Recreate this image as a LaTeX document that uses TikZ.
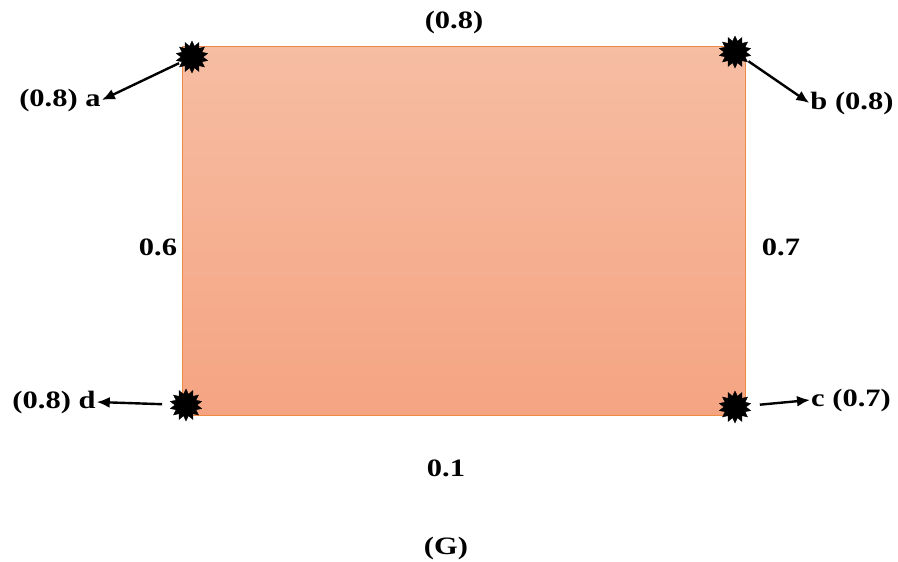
\documentclass[tikz,border=0pt]{standalone}
\usepackage{fontspec}
\setmainfont{Liberation Serif}
\usetikzlibrary{arrows.meta,shapes.symbols}
\definecolor{rtop}{HTML}{F6BDA3}
\definecolor{rbot}{HTML}{F5A482}
\definecolor{redge}{HTML}{EF8A45}
\newcommand{\lbl}[1]{\scalebox{1.22}[1]{\bfseries #1}}

\begin{document}
\begin{tikzpicture}[x=1pt, y=-1pt, every node/.style={font=\fontsize{25}{28}\selectfont, inner sep=1pt}]
\tikzstyle{burst}=[starburst, starburst points=14, starburst point height=5pt, random starburst=0, fill=black, draw=black, minimum width=32pt, minimum height=32pt, inner sep=0pt]
\tikzstyle{ptr}=[-{Latex[length=13pt,width=11pt]}, line width=2.4pt]
\useasboundingbox (0,0) rectangle (898,562);
% the region
\draw[redge, line width=1pt, top color=rtop, bottom color=rbot] (182,46) rectangle (745,415);
% corner points
\node[burst] (pa) at (192,57) {};
\node[burst] (pb) at (735,52) {};
\node[burst] (pd) at (186,405) {};
\node[burst] (pc) at (735,407) {};
% labels
\node (la) at (60,100) {\lbl{(0.8) a}};
\node (lb) at (852,103) {\lbl{b (0.8)}};
\node (ld) at (54,402) {\lbl{(0.8) d}};
\node (lc) at (851,400) {\lbl{c (0.7)}};
\node (ab) at (454,22) {\lbl{(0.8)}};
\node (ad) at (158,247) {\lbl{0.6}};
\node (bc) at (781,247) {\lbl{0.7}};
\node (dc) at (446,468) {\lbl{0.1}};
\node (g) at (446,548) {\lbl{(G)}};
% pointers
\draw[ptr, shorten <=3pt] (pa) -- (la.east);
\draw[ptr, shorten <=2pt] (pb) -- (lb.west);
\draw[ptr, shorten <=12pt] (pd) -- (ld.east);
\draw[ptr, shorten <=12pt] (pc) -- (lc.west);
\end{tikzpicture}
\end{document}
